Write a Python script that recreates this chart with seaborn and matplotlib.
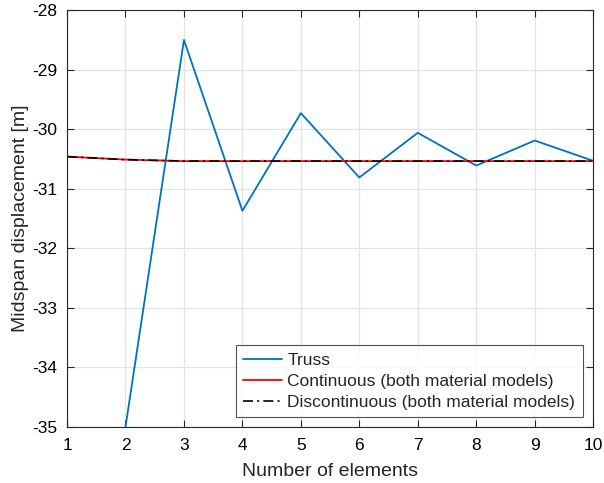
import numpy as np
import pandas as pd
import matplotlib
matplotlib.use("Agg")
import matplotlib.pyplot as plt
import seaborn as sns

# Midspan displacement vs. mesh refinement
elements_truss = [2, 3, 4, 5, 6, 7, 8, 9, 10]
truss = [-35.0, -28.50, -31.37, -29.73, -30.81, -30.06, -30.61, -30.19, -30.53]

elements = [1, 2, 3, 4, 5, 6, 7, 8, 9, 10]
continuous = [-30.46, -30.51, -30.535, -30.535, -30.535, -30.535, -30.535, -30.535, -30.535, -30.535]
discontinuous = [-30.46, -30.51, -30.535, -30.535, -30.535, -30.535, -30.535, -30.535, -30.535, -30.535]

x_ticks = list(range(1, 11))
y_ticks = [-35, -34, -33, -32, -31, -30, -29, -28]

sns.set_style("ticks")
plt.rcParams["font.family"] = ["Liberation Sans", "DejaVu Sans"]
plt.rcParams["axes.unicode_minus"] = False

fig = plt.figure(figsize=(6.04, 4.83), dpi=100)
ax = fig.add_axes([0.111, 0.116, 0.871, 0.863])

df_truss = pd.DataFrame({"n": elements_truss, "w": truss})
df_cont = pd.DataFrame({"n": elements, "w": continuous})
df_disc = pd.DataFrame({"n": elements, "w": discontinuous})

sns.lineplot(data=df_truss, x="n", y="w", ax=ax, color="#0072BD", lw=1.3,
             label="Truss")
sns.lineplot(data=df_cont, x="n", y="w", ax=ax, color="#FF0000", lw=1.3,
             label="Continuous (both material models)")
sns.lineplot(data=df_disc, x="n", y="w", ax=ax, color="black", lw=1.2,
             linestyle=(0, (6, 2.5, 1.2, 2.5)),
             label="Discontinuous (both material models)")

ax.set_xlim(1, 10)
ax.set_ylim(-35, -28)
ax.set_xticks(x_ticks)
ax.set_yticks(y_ticks)
ax.grid(True, color="#e3e3e3", lw=0.9)
ax.set_axisbelow(True)
for s in ax.spines.values():
    s.set_visible(True)
    s.set_color("#262626")
    s.set_linewidth(0.8)
ax.tick_params(axis="both", direction="in", top=True, right=True, length=5,
               width=0.8, labelsize=12.5, colors="#262626", labelcolor="black")
ax.tick_params(axis="x", pad=8)
ax.tick_params(axis="y", pad=7)
ax.set_xlabel("Number of elements", fontsize=14, labelpad=7)
ax.set_ylabel("Midspan displacement [m]", fontsize=14, labelpad=2)

leg = ax.legend(loc="lower right", bbox_to_anchor=(0.98, 0.024), fontsize=12.5,
                frameon=True, fancybox=False, edgecolor="#262626",
                handlelength=2.25, handletextpad=0.3, borderpad=0.42,
                labelspacing=0.33, borderaxespad=0)
leg.get_frame().set_linewidth(0.8)

fig.savefig("out.png", dpi=100)
